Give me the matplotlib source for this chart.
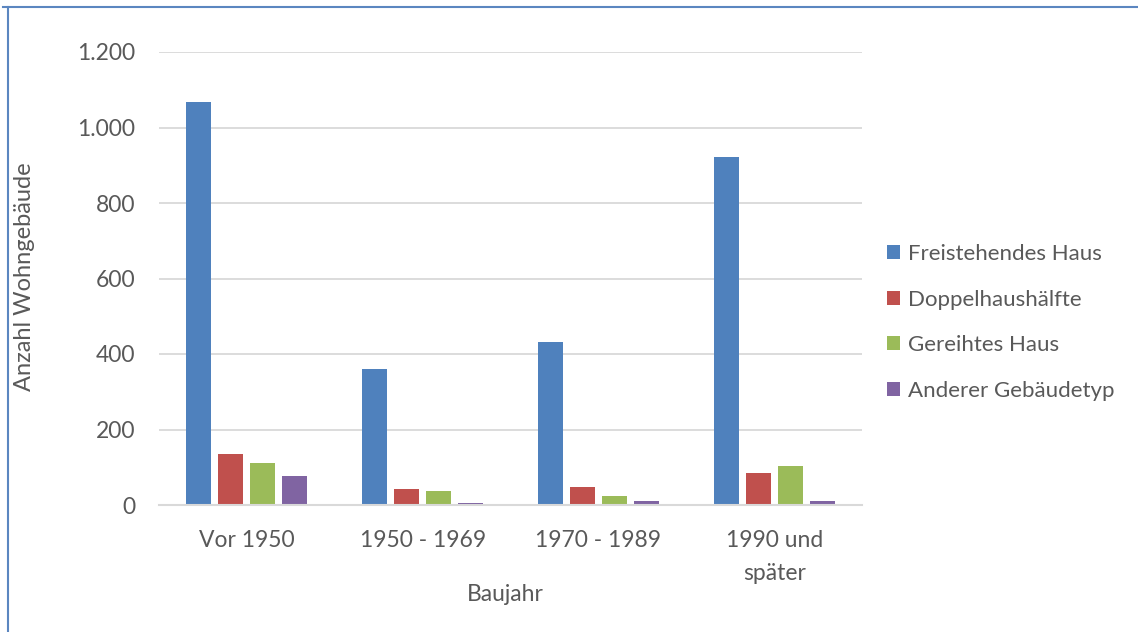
import matplotlib
matplotlib.use("Agg")
import matplotlib.pyplot as plt
import numpy as np
from matplotlib.lines import Line2D

plt.rcParams['font.family'] = ['Lato', 'DejaVu Sans']

categories = ["Vor 1950", "1950 - 1969", "1970 - 1989", "1990 und\nspäter"]
series_names = ["Freistehendes Haus", "Doppelhaushälfte", "Gereihtes Haus", "Anderer Gebäudetyp"]
freistehend = [1068, 360, 432, 921]
doppel = [136, 43, 47, 85]
gereiht = [111, 38, 24, 102]
anderer = [78, 4, 11, 10]
yticks = [0, 200, 400, 600, 800, 1000, 1200]
ytick_labels = ["0", "200", "400", "600", "800", "1.000", "1.200"]

colors = ["#4F81BD", "#C0504D", "#9BBB59", "#8064A2"]
text_color = "#595959"
grid_color = "#D9D9D9"
fs = 16.5

fig = plt.figure(figsize=(11.38, 6.32), dpi=100)
ax = fig.add_axes([159/1138, 1-505/632, (862-159)/1138, (505-52)/632])

x = np.arange(len(categories))
width = 0.142
step = 0.182
all_series = [freistehend, doppel, gereiht, anderer]
handles = []
for i, (vals, name, c) in enumerate(zip(all_series, series_names, colors)):
    b = ax.bar(x + (i - 1.5) * step, vals, width, color=c, label=name, zorder=3)
    handles.append(b)

ax.set_xlim(-0.5, len(categories) - 0.5)
ax.set_ylim(0, 1200)
ax.set_yticks(yticks)
ax.set_yticklabels(ytick_labels)
ax.set_xticks(x)
ax.set_xticklabels(categories, linespacing=1.7)
ax.tick_params(axis='both', length=0, labelsize=fs, colors=text_color)
ax.tick_params(axis='y', pad=17)
ax.tick_params(axis='x', pad=18)
ax.grid(axis='y', color=grid_color, linewidth=1.3, zorder=0)
for s in ['top', 'right', 'left']:
    ax.spines[s].set_visible(False)
ax.spines['bottom'].set_color(grid_color)
ax.spines['bottom'].set_linewidth(1.5)
ax.spines['bottom'].set_zorder(4)

ax.set_ylabel("Anzahl Wohngebäude", fontsize=fs + 0.5, color=text_color)
ax.set_xlabel("Baujahr", fontsize=fs, color=text_color)
ax.yaxis.set_label_coords(-(159-35)/703, 0.505)
ax.xaxis.set_label_coords(0.492, -(584-505)/453)

leg = fig.legend(handles=handles, labels=series_names, loc='upper left',
                 bbox_to_anchor=(867/1138, 1-224/632), frameon=False,
                 fontsize=fs - 0.5, labelspacing=1.15, handlelength=0.6, handleheight=0.6,
                 handletextpad=0.35, labelcolor=text_color)

# outer frame (partially visible border)
fig.add_artist(Line2D([3/1138, 1], [1-7/632, 1-7/632], color="#5B86C0", linewidth=1.5, transform=fig.transFigure))
fig.add_artist(Line2D([8/1138, 8/1138], [0, 1-7/632], color="#5B86C0", linewidth=1.5, transform=fig.transFigure))

fig.savefig("out.png", dpi=100)
